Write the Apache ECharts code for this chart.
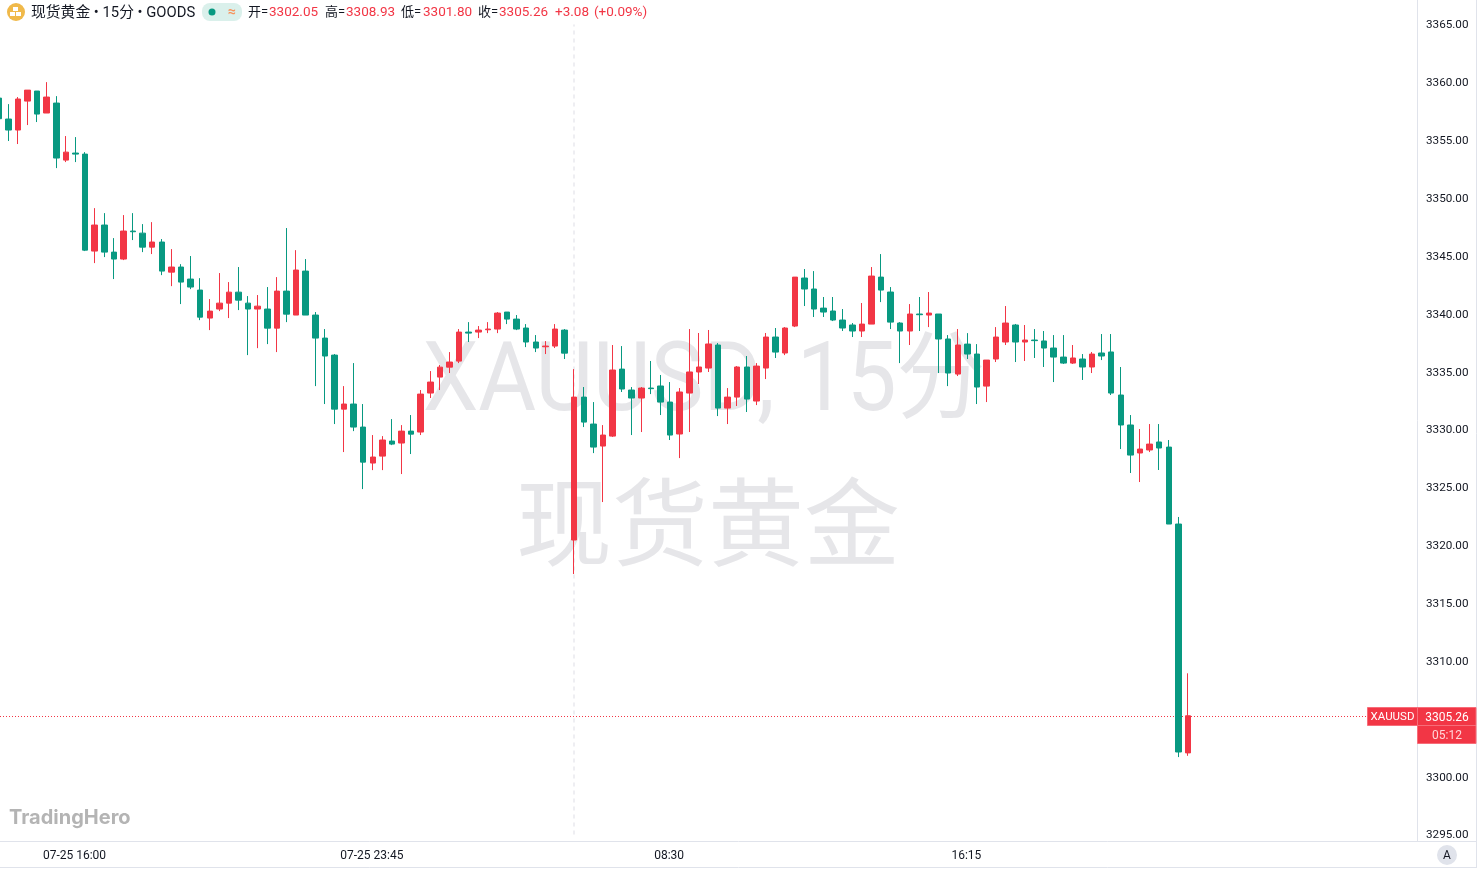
<!DOCTYPE html>
<html>
<head>
<meta charset="utf-8">
<title>XAUUSD</title>
<script src="https://cdn.jsdelivr.net/npm/echarts@6/dist/echarts.min.js"></script>
<style>
  html, body { margin: 0; padding: 0; background: #fff; }
  #chart { width: 1477px; height: 875px; }
</style>
</head>
<body>
<div id="chart"></div>
<script>
// 15 minute bars
const opens = [
  3358.64, 3356.83, 3355.88, 3358.38, 3359.25, 3357.35, 3358.21, 3353.28, 3353.89, 3353.80,
  3345.42, 3347.67, 3345.33, 3344.73, 3347.15, 3346.97, 3345.76, 3346.20, 3343.60, 3344.04,
  3343.00, 3342.05, 3339.63, 3340.41, 3340.92, 3341.87, 3340.92, 3340.41, 3340.41, 3338.76,
  3341.96, 3339.89, 3343.69, 3339.89, 3337.90, 3336.43, 3331.76, 3332.20, 3330.21, 3327.10,
  3327.70, 3329.00, 3328.83, 3329.86, 3329.78, 3333.15, 3334.53, 3335.39, 3335.91, 3338.42,
  3338.42, 3338.62, 3338.68, 3340.15, 3339.54, 3338.77, 3337.56, 3337.15, 3337.21, 3338.59,
  3320.45, 3332.80, 3330.47, 3328.57, 3329.43, 3335.22, 3333.41, 3332.72, 3333.58, 3333.76,
  3332.37, 3329.61, 3333.15, 3334.97, 3335.31, 3337.30, 3331.85, 3332.80, 3335.40, 3332.46,
  3335.31, 3337.99, 3336.61, 3338.94, 3343.09, 3342.14, 3340.49, 3340.24, 3339.46, 3339.03,
  3338.51, 3339.11, 3343.17, 3341.88, 3339.20, 3338.51, 3339.98, 3339.89, 3339.98, 3337.82,
  3334.79, 3337.38, 3336.52, 3333.75, 3336.09, 3337.56, 3339.03, 3337.56, 3337.73, 3337.65,
  3337.04, 3336.26, 3335.74, 3336.09, 3335.40, 3336.61, 3336.70, 3332.98, 3330.39, 3327.97,
  3328.23, 3328.92, 3328.48, 3321.83, 3302.05
]
const closes = [
  3356.86, 3355.88, 3358.56, 3359.33, 3357.26, 3358.73, 3353.46, 3353.97, 3353.80, 3345.50,
  3347.67, 3345.33, 3344.73, 3347.15, 3347.09, 3345.76, 3346.20, 3343.69, 3344.04, 3342.74,
  3342.31, 3339.71, 3340.23, 3340.92, 3341.87, 3341.18, 3340.41, 3340.66, 3338.76, 3341.96,
  3339.97, 3343.78, 3339.89, 3337.90, 3336.35, 3331.76, 3332.20, 3330.21, 3327.18, 3327.62,
  3329.09, 3328.74, 3329.86, 3329.60, 3333.06, 3334.10, 3335.39, 3335.83, 3338.42, 3338.33,
  3338.59, 3338.68, 3340.06, 3339.54, 3338.68, 3337.56, 3337.04, 3337.21, 3338.68, 3336.60,
  3332.80, 3330.64, 3328.48, 3329.52, 3335.14, 3333.50, 3332.72, 3333.58, 3333.53, 3332.37,
  3329.52, 3333.24, 3334.97, 3335.40, 3337.39, 3331.85, 3332.80, 3335.40, 3332.63, 3335.48,
  3337.99, 3336.69, 3338.77, 3343.17, 3342.14, 3340.41, 3340.15, 3339.46, 3338.77, 3338.51,
  3339.11, 3343.26, 3342.05, 3339.28, 3338.51, 3339.98, 3339.92, 3340.06, 3337.82, 3334.88,
  3337.30, 3336.52, 3333.67, 3336.00, 3337.99, 3339.20, 3337.56, 3337.73, 3337.68, 3337.04,
  3336.26, 3335.74, 3336.18, 3335.40, 3336.52, 3336.35, 3333.15, 3330.39, 3327.79, 3328.31,
  3328.74, 3328.40, 3321.83, 3302.13, 3305.26
]
const lows = [
  3355.00, 3354.93, 3354.67, 3356.31, 3356.57, 3357.35, 3352.59, 3353.11, 3353.11, 3345.42,
  3344.38, 3344.90, 3343.00, 3344.64, 3346.37, 3345.33, 3345.16, 3343.34, 3342.39, 3340.84,
  3342.13, 3339.45, 3338.59, 3340.23, 3339.63, 3340.32, 3336.43, 3337.03, 3337.38, 3336.69,
  3339.28, 3339.89, 3339.89, 3333.75, 3332.20, 3330.47, 3328.05, 3329.86, 3324.85, 3326.49,
  3326.49, 3328.65, 3326.15, 3327.88, 3329.52, 3332.72, 3333.41, 3334.88, 3335.74, 3337.56,
  3337.90, 3338.33, 3338.33, 3339.11, 3338.59, 3337.12, 3336.69, 3336.52, 3337.04, 3336.09,
  3317.51, 3330.21, 3327.96, 3323.73, 3329.35, 3333.24, 3329.52, 3329.78, 3333.06, 3331.25,
  3329.09, 3327.53, 3329.78, 3333.93, 3334.97, 3331.16, 3330.47, 3332.03, 3331.51, 3332.11,
  3334.36, 3336.18, 3336.43, 3338.85, 3340.67, 3339.72, 3339.72, 3339.37, 3338.51, 3337.99,
  3337.99, 3339.11, 3341.01, 3338.68, 3335.74, 3337.30, 3338.51, 3338.85, 3334.88, 3333.75,
  3334.62, 3336.09, 3332.20, 3332.37, 3335.83, 3337.30, 3335.83, 3335.92, 3336.18, 3335.40,
  3334.10, 3335.66, 3335.66, 3334.28, 3334.88, 3336.00, 3332.98, 3328.31, 3326.24, 3325.46,
  3328.05, 3326.50, 3321.83, 3301.69, 3301.80
]
const highs = [
  3358.80, 3358.12, 3358.73, 3359.33, 3359.25, 3360.02, 3358.81, 3355.36, 3355.27, 3353.97,
  3349.13, 3348.70, 3346.54, 3348.53, 3348.70, 3347.75, 3347.92, 3346.46, 3345.59, 3344.29,
  3344.99, 3343.08, 3341.27, 3343.52, 3342.74, 3344.04, 3341.53, 3341.62, 3342.31, 3343.17,
  3347.41, 3345.50, 3344.73, 3340.15, 3338.68, 3336.52, 3333.75, 3335.74, 3332.20, 3329.52,
  3329.43, 3330.90, 3330.38, 3331.25, 3333.41, 3335.05, 3335.57, 3336.69, 3338.68, 3339.28,
  3338.94, 3339.28, 3340.15, 3340.15, 3339.89, 3339.11, 3338.16, 3337.64, 3339.11, 3338.68,
  3335.22, 3333.67, 3332.37, 3330.38, 3337.30, 3337.21, 3333.67, 3333.67, 3335.92, 3334.71,
  3334.10, 3333.58, 3338.68, 3338.34, 3338.60, 3337.47, 3333.58, 3335.48, 3336.35, 3335.74,
  3338.34, 3338.77, 3338.85, 3343.17, 3343.87, 3343.69, 3341.45, 3341.45, 3340.41, 3339.20,
  3340.93, 3344.04, 3345.16, 3342.31, 3339.28, 3340.84, 3341.45, 3341.88, 3339.98, 3338.16,
  3338.68, 3338.33, 3337.38, 3336.00, 3338.85, 3340.67, 3339.12, 3339.03, 3338.68, 3338.51,
  3338.16, 3338.16, 3337.30, 3336.52, 3336.70, 3338.25, 3338.25, 3335.40, 3331.25, 3330.04,
  3330.47, 3330.47, 3329.09, 3322.44, 3308.93
]

const tickIndex = [8, 39, 70, 101]
const tickLabels = ['07-25 16:00', '07-25 23:45', '08:30', '16:15']
const priceTicks = [3295, 3365, 5]
const sessionBar = 60
const lastClose = 3305.26
const headerQuote = ['3302.05', '3308.93', '3301.80', '3305.26', '+3.08', '(+0.09%)']

const red = '#F23645'
const green = '#089981'
const lineColor = '#e0e3eb'
const textColor = '#131722'
const fonts = 'Roboto, "Noto Sans CJK SC", sans-serif'

// empty room on the right of the last bar
const slots = 148
const categories = []
for (let i = 0; i < slots; i++) {
  categories.push(String(i))
}
const bars = opens.map((o, i) => [o, closes[i], lows[i], highs[i]])

function label(x, y, text, fill, size, extra) {
  return {
    type: 'text', x, y, z: 100, silent: true,
    style: Object.assign({ text, fill, font: `${size || 12}px ${fonts}`, textVerticalAlign: 'middle' }, extra)
  }
}

function hline(x1, x2, y) {
  return { type: 'line', z: 90, silent: true, shape: { x1, y1: y, x2, y2: y }, style: { stroke: lineColor, lineWidth: 1 } }
}

function vline(x, y1, y2, stroke) {
  return { type: 'line', z: 90, silent: true, shape: { x1: x, y1, x2: x, y2 }, style: { stroke: stroke || lineColor, lineWidth: 1 } }
}

const chart = echarts.init(document.getElementById('chart'), null, { renderer: 'canvas' })

chart.setOption({
  animation: false,
  backgroundColor: '#fff',
  textStyle: { fontFamily: fonts },
  grid: { left: -6, top: 24.5, width: 1419.3, height: 810, outerBoundsMode: 'none', containLabel: false },
  xAxis: {
    type: 'category',
    data: categories,
    boundaryGap: true,
    axisLine: { show: false },
    axisTick: { show: false },
    splitLine: { show: false },
    axisLabel: {
      interval: (i) => tickIndex.includes(i),
      formatter: (v, i) => tickLabels[tickIndex.indexOf(i)] || '',
      color: textColor,
      fontSize: 12,
      margin: 15.5,
      padding: [0, 2, 0, 0],
      hideOverlap: false
    }
  },
  yAxis: {
    type: 'value',
    position: 'right',
    min: priceTicks[0],
    max: priceTicks[1],
    interval: priceTicks[2],
    scale: true,
    axisLine: { show: false },
    axisTick: { show: false },
    splitLine: { show: false },
    axisLabel: {
      color: textColor,
      fontSize: 11.7,
      margin: 12.7,
      lineHeight: 14,
      verticalAlign: 'top',
      padding: [-6, 0, 0, 0],
      formatter: (v) => v.toFixed(2)
    }
  },
  series: [{
    type: 'candlestick',
    data: bars,
    barWidth: 6,
    clip: true,
    itemStyle: {
      color: red,
      color0: green,
      borderColor: red,
      borderColor0: green,
      borderWidth: 1
    },
    markLine: {
      silent: true,
      symbol: 'none',
      animation: false,
      z: 1,
      label: { show: false },
      data: [
        { yAxis: lastClose, lineStyle: { color: red, type: [1, 2], width: 1 } },
        { xAxis: String(sessionBar), lineStyle: { color: '#eeeef2', type: [4, 4], width: 2 } }
      ]
    }
  }]
})

const priceY = Math.round(chart.convertToPixel({ yAxisIndex: 0 }, lastClose))

chart.setOption({
  graphic: [
    // watermark
    {
      type: 'text', x: 704, y: 386, z: 0, silent: true, scaleX: 0.925, originX: 0, originY: 0,
      style: { text: 'XAUUSD, 15分', fill: '#e6e6e9', font: `96px ${fonts}`, textAlign: 'center', textVerticalAlign: 'middle' }
    },
    {
      type: 'text', x: 708, y: 534, z: 0, silent: true,
      style: { text: '现货黄金', fill: '#e6e6e9', font: `96px ${fonts}`, textAlign: 'center', textVerticalAlign: 'middle' }
    },
    {
      type: 'text', x: 9, y: 818, z: 90, silent: true,
      style: { text: 'TradingHero', fill: '#b4b4b4', font: `bold 20px Inter, ${fonts}`, textVerticalAlign: 'middle' }
    },

    // frame
    vline(1417.5, 0, 841),
    vline(1476.5, 0, 867),
    hline(0, 1477, 841.5),
    hline(0, 1477, 867.5),
    { type: 'circle', z: 91, silent: true, shape: { cx: 1447, cy: 855, r: 10 }, style: { fill: lineColor } },
    label(1447, 856, 'A', textColor, 12, { textAlign: 'center' }),

    // header
    { type: 'circle', z: 91, silent: true, shape: { cx: 16, cy: 12, r: 9 }, style: { fill: '#f0b94a' } },
    { type: 'rect', z: 92, silent: true, shape: { x: 13, y: 7, width: 5, height: 4 }, style: { fill: '#fff' } },
    { type: 'rect', z: 92, silent: true, shape: { x: 10, y: 12, width: 5, height: 4 }, style: { fill: '#fff' } },
    { type: 'rect', z: 92, silent: true, shape: { x: 16, y: 12, width: 5, height: 4 }, style: { fill: '#fff' } },
    label(31, 13, '现货黄金 • 15分 • GOODS', textColor, 14.8),
    { type: 'rect', z: 91, silent: true, shape: { x: 202, y: 3, width: 40, height: 18, r: 8 }, style: { fill: '#daf0eb' } },
    { type: 'circle', z: 92, silent: true, shape: { cx: 212, cy: 12, r: 3.5 }, style: { fill: green } },
    label(232, 12, '≈', '#f7925a', 14, { textAlign: 'center', font: `bold 14px ${fonts}` }),
    label(248, 13, '开=', textColor, 13),
    label(269, 13, headerQuote[0], red, 13.5),
    label(325, 13, '高=', textColor, 13),
    label(346, 13, headerQuote[1], red, 13.5),
    label(401, 13, '低=', textColor, 13),
    label(423, 13, headerQuote[2], red, 13.5),
    label(478, 13, '收=', textColor, 13),
    label(499, 13, headerQuote[3], red, 13.5),
    label(555, 13, headerQuote[4], red, 13.5),
    label(594, 13, headerQuote[5], red, 13.5),

    // last price tags
    { type: 'rect', z: 95, silent: true, shape: { x: 1367.5, y: priceY - 8.5, width: 50, height: 18 }, style: { fill: red, stroke: '#f76d79' } },
    { type: 'rect', z: 95, silent: true, shape: { x: 1417.5, y: priceY - 8.5, width: 58.5, height: 18 }, style: { fill: red, stroke: '#f76d79' } },
    { type: 'rect', z: 95, silent: true, shape: { x: 1417.5, y: priceY + 9.5, width: 58.5, height: 18 }, style: { fill: red, stroke: '#f76d79' } },
    label(1392.5, priceY + 1.5, 'XAUUSD', '#fff', 11.5, { textAlign: 'center' }),
    label(1447, priceY + 1.5, lastClose.toFixed(2), '#fff', 12, { textAlign: 'center' }),
    label(1447, priceY + 19.5, '05:12', '#ffd5d9', 12, { textAlign: 'center' })
  ]
})

window.addEventListener('resize', () => chart.resize())
</script>
</body>
</html>
